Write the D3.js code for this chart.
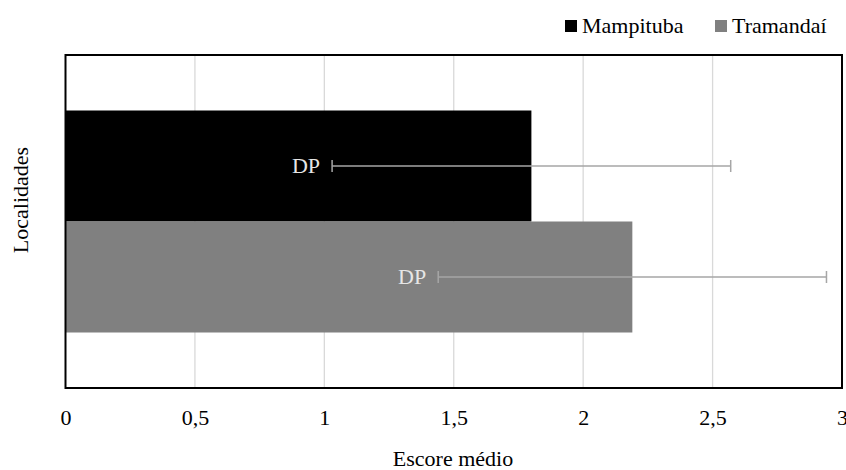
<!DOCTYPE html>
<html><head><meta charset="utf-8">
<script src="https://cdn.jsdelivr.net/npm/d3@7"></script>
<style>
html,body{margin:0;padding:0;background:#fff;}
svg{display:block;}
</style></head>
<body>
<svg id="chart" width="846" height="470"></svg>
<script>
const series = ["Mampituba", "Tramandaí"];
const means = [1.80, 2.19];
const sds = [0.77, 0.75];
const xTicks = [0, 0.5, 1, 1.5, 2, 2.5, 3];
const xTitle = "Escore médio";
const yTitle = "Localidades";
const errLabel = "DP";

const FONT = "'Liberation Serif', 'Times New Roman', 'DejaVu Serif', serif";
const colors = ["#000000", "#808080"];
const m = {left: 65.5, right: 842, top: 55, bottom: 388};
const svg = d3.select("#chart");

const x = d3.scaleLinear().domain([0, 3]).range([m.left, m.right]);
const y = d3.scaleBand().domain(series).range([m.top, m.bottom]).paddingInner(0).paddingOuter(0.5);

// gridlines
svg.append("g").selectAll("line").data(xTicks.slice(1, -1)).join("line")
  .attr("x1", d => x(d)).attr("x2", d => x(d))
  .attr("y1", m.top).attr("y2", m.bottom)
  .attr("stroke", "#d9d9d9").attr("stroke-width", 1.3);

// bars
svg.append("g").selectAll("rect").data(series).join("rect")
  .attr("x", x(0))
  .attr("y", d => y(d))
  .attr("width", (d, i) => x(means[i]) - x(0))
  .attr("height", y.bandwidth())
  .attr("fill", (d, i) => colors[i]);

// error bars (DP)
const eg = svg.append("g");
series.forEach((s, i) => {
  const cy = y(s) + y.bandwidth() / 2;
  const lo = x(means[i] - sds[i]), hi = x(means[i] + sds[i]);
  eg.append("line").attr("x1", lo).attr("x2", hi).attr("y1", cy).attr("y2", cy)
    .attr("stroke", "#a6a6a6").attr("stroke-width", 1.5);
  [lo, hi].forEach(px => eg.append("line").attr("x1", px).attr("x2", px)
    .attr("y1", cy - 6).attr("y2", cy + 6).attr("stroke", "#a6a6a6").attr("stroke-width", 1.5));
  eg.append("text").attr("x", lo - 12).attr("y", cy + 7)
    .attr("text-anchor", "end").attr("font-family", FONT).attr("font-size", 22)
    .attr("fill", "#e6e6e6").text(errLabel);
});

// plot border
svg.append("rect").attr("x", m.left).attr("y", m.top)
  .attr("width", m.right - m.left).attr("height", m.bottom - m.top)
  .attr("fill", "none").attr("stroke", "#000").attr("stroke-width", 2);

// x axis
const fmt = d => String(d).replace(".", ",");
const ax = svg.append("g").attr("transform", `translate(0,${m.bottom})`)
  .call(d3.axisBottom(x).tickValues(xTicks).tickSize(0).tickFormat(fmt));
ax.attr("font-family", FONT).attr("font-size", 22);
ax.select(".domain").remove();
ax.selectAll("text").attr("y", 37).attr("dy", 0).attr("fill", "#000");

// axis titles
svg.append("text").attr("x", 453).attr("y", 466).attr("text-anchor", "middle")
  .attr("font-family", FONT).attr("font-size", 22).attr("fill", "#000").text(xTitle);
svg.append("text").attr("transform", "translate(28,200) rotate(-90)")
  .attr("text-anchor", "middle").attr("font-family", FONT).attr("font-size", 22)
  .attr("fill", "#000").text(yTitle);

// legend
const lg = svg.append("g");
const legX = [565, 715];
series.forEach((s, i) => {
  lg.append("rect").attr("x", legX[i]).attr("y", 20).attr("width", 12).attr("height", 12)
    .attr("fill", colors[i]);
  lg.append("text").attr("x", legX[i] + 17).attr("y", 33)
    .attr("font-family", FONT).attr("font-size", 22)
    .attr("fill", "#000").text(s);
});
</script>
</body></html>
